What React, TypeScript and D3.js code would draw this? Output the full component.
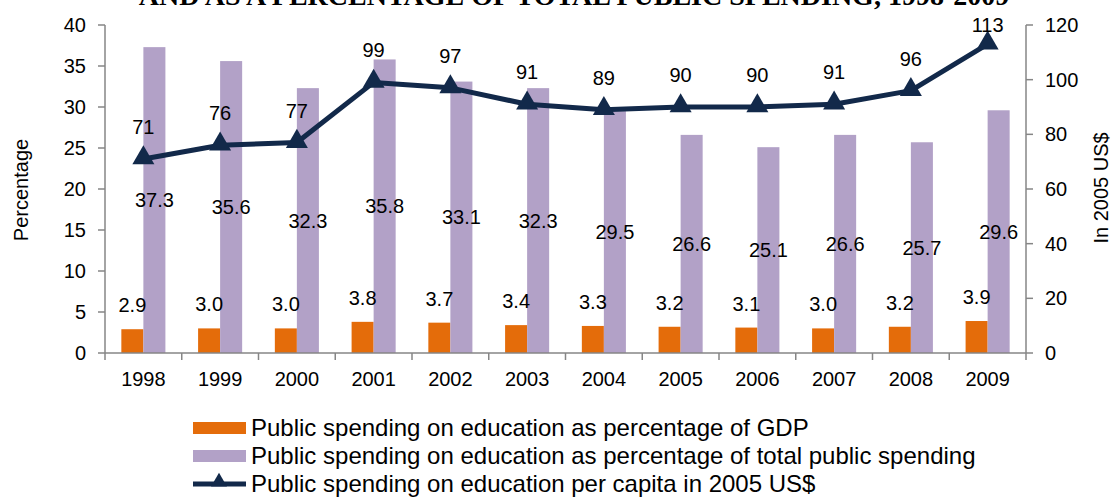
import React from "react";
import * as d3 from "d3";

const years = ["1998", "1999", "2000", "2001", "2002", "2003", "2004", "2005", "2006", "2007", "2008", "2009"];
const gdpShare = [2.9, 3.0, 3.0, 3.8, 3.7, 3.4, 3.3, 3.2, 3.1, 3.0, 3.2, 3.9];
const totalShare = [37.3, 35.6, 32.3, 35.8, 33.1, 32.3, 29.5, 26.6, 25.1, 26.6, 25.7, 29.6];
const perCapita = [71, 76, 77, 99, 97, 91, 89, 90, 90, 91, 96, 113];
const leftTicks = [0, 5, 10, 15, 20, 25, 30, 35, 40];
const rightTicks = [0, 20, 40, 60, 80, 100, 120];
const legendLabels = [
  "Public spending on education as percentage of GDP",
  "Public spending on education as percentage of total public spending",
  "Public spending on education per capita in 2005 US$",
];
const titleText = "AND AS A PERCENTAGE OF TOTAL PUBLIC SPENDING, 1998-2009";

const ORANGE = "#E46C0A";
const PURPLE = "#B2A1C7";
const NAVY = "#12294A";
const AXIS = "#868686";
const FONT = "'Liberation Sans', Arial, sans-serif";

export default function App() {
  const W = 1111, H = 497;
  const left = 105, right = 1026, top = 25, bottom = 353;
  const x = d3.scaleBand<string>().domain(years).range([left, right]).padding(0);
  const bw = x.bandwidth() * 0.287;
  const yL = d3.scaleLinear().domain([0, 40]).range([bottom, top]);
  const yR = d3.scaleLinear().domain([0, 120]).range([bottom, top]);
  const cx = (i: number) => (x(years[i]) as number) + x.bandwidth() / 2;
  const line = d3.line<number>().x((_, i) => cx(i)).y((d) => yR(d));
  const tri = d3.symbol().type(d3.symbolTriangle).size(210);
  const fs = 20;

  return (
    <svg width={W} height={H} style={{ position: "absolute", left: 0, top: 0, background: "#fff" }} fontFamily={FONT}>
      <text x={574} y={5} textAnchor="middle" fontFamily="'Liberation Serif', 'Times New Roman', serif" fontWeight="bold" fontSize={28} fill="#000">
        {titleText}
      </text>

      {/* bars */}
      {years.map((yr, i) => (
        <g key={yr}>
          <rect x={cx(i) - bw} y={yL(gdpShare[i])} width={bw} height={bottom - yL(gdpShare[i])} fill={ORANGE} />
          <rect x={cx(i)} y={yL(totalShare[i])} width={bw} height={bottom - yL(totalShare[i])} fill={PURPLE} />
        </g>
      ))}

      {/* axes */}
      <line x1={left} x2={left} y1={top} y2={bottom} stroke={AXIS} strokeWidth={1.5} />
      <line x1={right} x2={right} y1={top} y2={bottom} stroke={AXIS} strokeWidth={1.5} />
      <line x1={left} x2={right} y1={bottom} y2={bottom} stroke={AXIS} strokeWidth={1.5} />
      {leftTicks.map((t) => (
        <g key={"l" + t}>
          <line x1={left - 7} x2={left} y1={yL(t)} y2={yL(t)} stroke={AXIS} strokeWidth={1.5} />
          <text x={left - 19} y={yL(t)} dy="0.35em" textAnchor="end" fontSize={fs}>{t}</text>
        </g>
      ))}
      {rightTicks.map((t) => (
        <g key={"r" + t}>
          <line x1={right} x2={right + 7} y1={yR(t)} y2={yR(t)} stroke={AXIS} strokeWidth={1.5} />
          <text x={right + 19} y={yR(t)} dy="0.35em" textAnchor="start" fontSize={fs}>{t}</text>
        </g>
      ))}
      {years.map((yr) => (
        <line key={"xt" + yr} x1={x(yr) as number} x2={x(yr) as number} y1={bottom} y2={bottom + 7} stroke={AXIS} strokeWidth={1.5} />
      ))}
      <line x1={right} x2={right} y1={bottom} y2={bottom + 7} stroke={AXIS} strokeWidth={1.5} />
      {years.map((yr, i) => (
        <text key={"xl" + yr} x={cx(i)} y={379} dy="0.35em" textAnchor="middle" fontSize={fs}>{yr}</text>
      ))}

      <text transform={`translate(28,190) rotate(-90)`} textAnchor="middle" fontSize={fs}>Percentage</text>
      <text transform={`translate(1108,188) rotate(-90)`} textAnchor="middle" fontSize={fs}>In 2005 US$</text>

      {/* labels for bars */}
      {years.map((yr, i) => (
        <g key={"bl" + yr}>
          <text x={cx(i) - bw / 2} y={yL(gdpShare[i]) - 24} dy="0.35em" textAnchor="middle" fontSize={fs}>{gdpShare[i].toFixed(1)}</text>
          <text x={cx(i) + bw / 2} y={(yL(totalShare[i]) + bottom) / 2} dy="0.35em" textAnchor="middle" fontSize={fs}>{totalShare[i].toFixed(1)}</text>
        </g>
      ))}

      {/* line */}
      <path d={line(perCapita) as string} fill="none" stroke={NAVY} strokeWidth={5} strokeLinejoin="round" />
      {perCapita.map((v, i) => (
        <g key={"m" + i}>
          <path d={tri() as string} transform={`translate(${cx(i)},${yR(v) - 1})`} fill={NAVY} />
          <text x={cx(i)} y={Math.max(yR(v) - 32, 25)} dy="0.35em" textAnchor="middle" fontSize={fs}>{v}</text>
        </g>
      ))}

      {/* legend */}
      <rect x={193} y={422} width={53} height={12} fill={ORANGE} />
      <rect x={193} y={450} width={53} height={12} fill={PURPLE} />
      <line x1={193} x2={246} y1={484} y2={484} stroke={NAVY} strokeWidth={5} />
      <path d={d3.symbol().type(d3.symbolTriangle).size(110)() as string} transform="translate(219,482)" fill={NAVY} />
      {legendLabels.map((l, i) => (
        <text key={l} x={251} y={428 + i * 28} dy="0.35em" fontSize={24} fill="#000">{l}</text>
      ))}
    </svg>
  );
}
